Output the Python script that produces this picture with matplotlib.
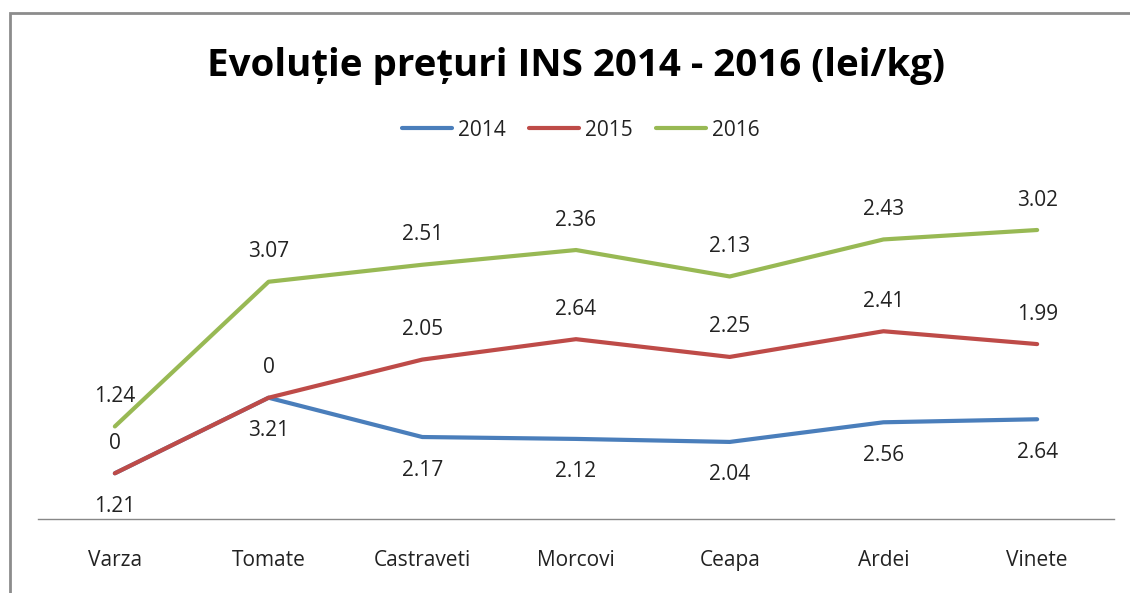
import matplotlib
matplotlib.use("Agg")
import matplotlib.pyplot as plt
import numpy as np

categories = ["Varza", "Tomate", "Castraveti", "Morcovi", "Ceapa", "Ardei", "Vinete"]
series_names = ["2014", "2015", "2016"]
v2014 = [1.21, 3.21, 2.17, 2.12, 2.04, 2.56, 2.64]
v2015 = [0, 0, 2.05, 2.64, 2.25, 2.41, 1.99]
v2016 = [1.24, 3.07, 2.51, 2.36, 2.13, 2.43, 3.02]
colors = ["#4a7ebb", "#be4b48", "#98b954"]

plt.rcParams['font.family'] = ['Open Sans', 'DejaVu Sans']

W, H = 1130, 593
fig = plt.figure(figsize=(W / 100, H / 100), dpi=100)

# outer chart border
border = plt.Rectangle((10 / W, -0.1), 1.2, (H - 13) / H + 0.1, transform=fig.transFigure,
                       fill=False, edgecolor="#8c8c8c", linewidth=2.0)
fig.patches.append(border)

ax_left, ax_right = 38, 1114
ax_bottom, ax_top = 519, 179
ax = fig.add_axes([ax_left / W, (H - ax_bottom) / H, (ax_right - ax_left) / W, (ax_bottom - ax_top) / H])

x = np.arange(len(categories))
data = [np.array(v2014), np.array(v2015), np.array(v2016)]
cum = np.cumsum(data, axis=0)

offsets = [-33, 30, 30]
for i in range(3):
    ax.plot(x, cum[i], color=colors[i], linewidth=3, label=series_names[i],
            solid_capstyle="round", solid_joinstyle="round")
    for xi, yi, val in zip(x, cum[i], data[i]):
        ax.annotate(f"{val:g}", (xi, yi), xytext=(0, offsets[i] * 0.72), textcoords="offset points",
                    ha="center", va="center", fontsize=15, color="#222222")

ax.set_xlim(-0.5, len(categories) - 0.5)
ax.set_ylim(0, 9)
ax.set_yticks([])
for s in ["left", "right", "top"]:
    ax.spines[s].set_visible(False)
ax.spines["bottom"].set_color("#888888")
ax.spines["bottom"].set_linewidth(1)
ax.set_xticks(x)
ax.set_xticklabels(categories, fontsize=15, color="#222222")
ax.tick_params(axis="x", length=0, pad=22)
ax.patch.set_alpha(0)

fig.text(576 / W, 1 - 66 / H, "Evoluție prețuri INS 2014 - 2016 (lei/kg)", ha="center", va="center",
         fontsize=27.7, fontweight="bold", color="#000000")

leg = fig.legend(loc="center", bbox_to_anchor=(581 / W, 1 - 130 / H), ncol=3, frameon=False,
                 fontsize=15, handlelength=2.4, handletextpad=0.3, columnspacing=1.1)
for t in leg.get_texts():
    t.set_color("#222222")

fig.savefig("out.png", dpi=100)
